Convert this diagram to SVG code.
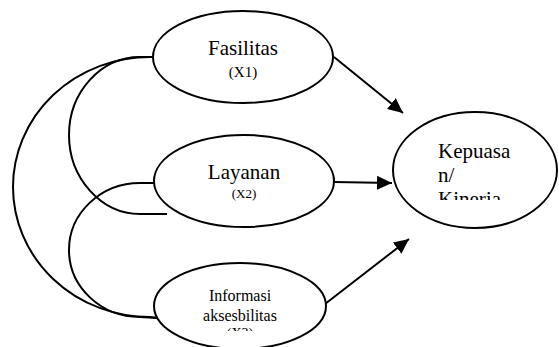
<svg xmlns="http://www.w3.org/2000/svg" width="559" height="347" viewBox="0 0 559 347">
<style>
.node ellipse{fill:#fff;stroke:#000;stroke-width:2}
.conn path,.conn line{fill:none;stroke:#000;stroke-width:2}
.t{font-family:'Liberation Serif',Tinos,'Times New Roman','DejaVu Serif',serif;fill:#000}
.big{font-size:21px}
.mid{font-size:16px}
.sub{font-size:14px}
</style>
<defs>
<marker id="ah" markerUnits="userSpaceOnUse" viewBox="0 0 15 14" refX="15" refY="7" markerWidth="15" markerHeight="14" orient="auto">
<path d="M0,0 L15,7 L0,14 z" fill="#000"/>
</marker>
<clipPath id="c3"><rect x="150" y="250" width="200" height="81"/></clipPath>
<clipPath id="cy"><rect x="390" y="100" width="169" height="100"/></clipPath>
</defs>
<rect width="559" height="347" fill="#fff"/>
<g class="conn" id="connectors">
<path d="M154,57 L150,57 A137 130 0 0 0 150 317 L158,318"/>
<path d="M154,57 L140,57 C101,57 69,92 69,135 C69,178 101,214 140,214 L167,214"/>
<path d="M154,183 L140,183 C101,183 69,213 69,250 C69,287 101,317 140,317 L158,318"/>
<line x1="334" y1="57" x2="403" y2="113" marker-end="url(#ah)"/>
<line x1="334" y1="182" x2="392" y2="183" marker-end="url(#ah)"/>
<line x1="325" y1="304" x2="409" y2="239" marker-end="url(#ah)"/>
</g>
<g class="node" id="fasilitas">
<ellipse cx="243" cy="57" rx="90" ry="46"/>
<text class="t big" font-family="Liberation Serif, serif" x="243" y="55" text-anchor="middle">Fasilitas</text>
<text class="t" font-family="Liberation Serif, serif" x="243" y="77" text-anchor="middle" font-size="15">(X1)</text>
</g>
<g class="node" id="layanan">
<ellipse cx="244" cy="181" rx="90" ry="46"/>
<text class="t big" font-family="Liberation Serif, serif" x="244" y="179" text-anchor="middle">Layanan</text>
<text class="t" font-family="Liberation Serif, serif" x="244" y="198" text-anchor="middle" font-size="13">(X2)</text>
</g>
<g class="node" id="informasi">
<ellipse cx="240" cy="306" rx="86" ry="43"/>
<g clip-path="url(#c3)">
<text class="t mid" font-family="Liberation Serif, serif" x="240" y="301" text-anchor="middle">Informasi</text>
<text class="t mid" font-family="Liberation Serif, serif" x="240" y="321" text-anchor="middle">aksesbilitas</text>
<text class="t sub" font-family="Liberation Serif, serif" x="240" y="338" text-anchor="middle">(X3)</text>
</g>
</g>
<g class="node" id="kepuasan">
<ellipse cx="475" cy="170" rx="82" ry="58"/>
<g clip-path="url(#cy)">
<text class="t big" font-family="Liberation Serif, serif" x="438" y="158">Kepuasa</text>
<text class="t big" font-family="Liberation Serif, serif" x="438" y="182">n/</text>
<text class="t big" font-family="Liberation Serif, serif" x="438" y="206">Kinerja</text>
</g>
</g>
</svg>
